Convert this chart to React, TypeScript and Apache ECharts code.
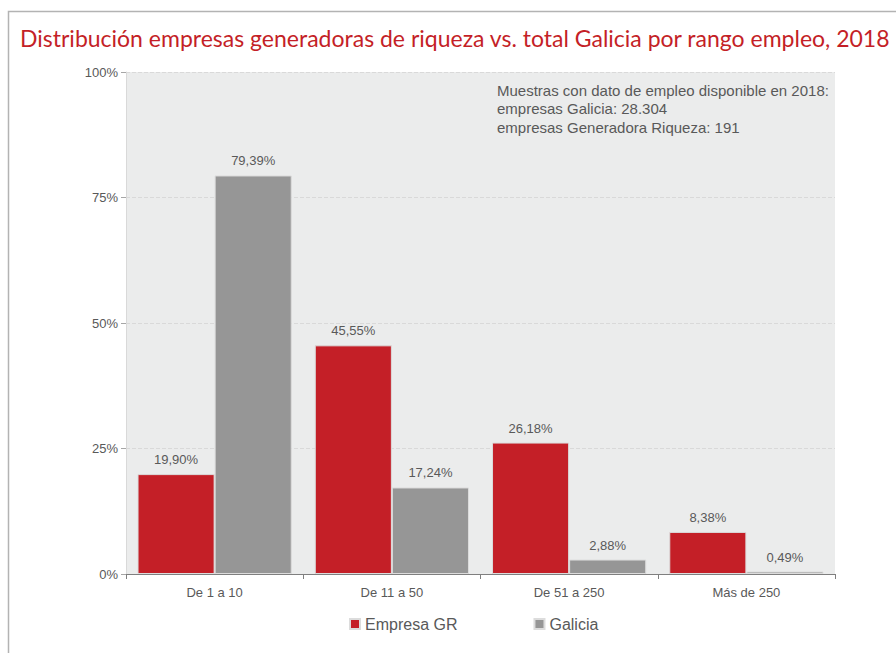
import React, { useEffect, useRef } from "react";
import * as echarts from "echarts";

const categories = ["De 1 a 10", "De 11 a 50", "De 51 a 250", "Más de 250"];
const empresaGR = [19.9, 45.55, 26.18, 8.38];
const galicia = [79.39, 17.24, 2.88, 0.49];
const seriesNames = ["Empresa GR", "Galicia"];
const titleText = "Distribución empresas generadoras de riqueza vs. total Galicia por rango empleo, 2018";
const noteLines = [
  "Muestras con dato de empleo disponible en 2018:",
  "empresas Galicia: 28.304",
  "empresas Generadora Riqueza: 191",
];

const RED = "#C41F27";
const GRAY = "#969696";
const TXT = "#595959";
const FONT = "Liberation Sans, Arial, sans-serif";

export default function App() {
  const ref = useRef<HTMLDivElement>(null);
  useEffect(() => {
    if (!ref.current) return;
    const chart = echarts.init(ref.current, null, { renderer: "svg" });
    const fmt = (p: any) => p.value.toFixed(2).replace(".", ",") + "%";
    chart.setOption({
      animation: false,
      backgroundColor: "#ffffff",
      textStyle: { fontFamily: FONT },
      title: {
        text: titleText,
        left: 15,
        top: 21,
        textStyle: { color: RED, fontSize: 23, fontWeight: "normal", fontFamily: "Lato, sans-serif" },
      },
      legend: {
        bottom: 16,
        left: 344,
        itemWidth: 10,
        itemHeight: 10,
        itemGap: 76,
        icon: "rect",
        textStyle: { color: TXT, fontSize: 16, fontFamily: FONT },
        data: seriesNames,
      },
      grid: {
        left: 126,
        right: 61,
        top: 72,
        bottom: 79,
        show: true,
        backgroundColor: "#EBECEC",
        borderWidth: 0,
      },
      xAxis: {
        type: "category",
        data: categories,
        axisLine: { lineStyle: { color: "#7f7f7f", width: 1 } },
        axisTick: { show: true, length: 5, lineStyle: { color: "#7f7f7f" } },
        axisLabel: { color: TXT, fontSize: 13, margin: 12 },
      },
      yAxis: {
        type: "value",
        min: 0,
        max: 100,
        interval: 25,
        axisLine: { show: true, lineStyle: { color: "#d9d9d9" } },
        axisTick: { show: true, length: 5, lineStyle: { color: "#a6a6a6" } },
        axisLabel: { color: TXT, fontSize: 13, formatter: "{value}%", margin: 8 },
        splitLine: { lineStyle: { color: "#d9d9d9", type: "dashed" } },
      },
      graphic: [
        {
          type: "rect",
          shape: { x: 8.5, y: 11.5, width: 900, height: 660 },
          style: { fill: "none", stroke: "#b3b3b3", lineWidth: 1.5 },
          silent: true,
        },
        {
          type: "text",
          left: 497,
          top: 81,
          style: {
            text: noteLines.join("\n"),
            fill: TXT,
            fontSize: 15,
            lineHeight: 18.5,
            fontFamily: FONT,
          },
        },
      ],
      series: [
        {
          name: seriesNames[0],
          type: "bar",
          data: empresaGR,
          barGap: "0%",
          barCategoryGap: "13%",
          itemStyle: { color: RED, borderColor: "#dcdcdc", borderWidth: 1 },
          label: { show: true, position: "top", distance: 8, color: TXT, fontSize: 13, formatter: fmt },
        },
        {
          name: seriesNames[1],
          type: "bar",
          data: galicia,
          itemStyle: { color: GRAY, borderColor: "#dcdcdc", borderWidth: 1 },
          label: { show: true, position: "top", distance: 8, color: TXT, fontSize: 13, formatter: fmt },
        },
      ],
    });
    return () => chart.dispose();
  }, []);
  return (
    <div
      ref={ref}
      style={{ position: "absolute", left: 0, top: 0, width: 896, height: 653 }}
    />
  );
}
